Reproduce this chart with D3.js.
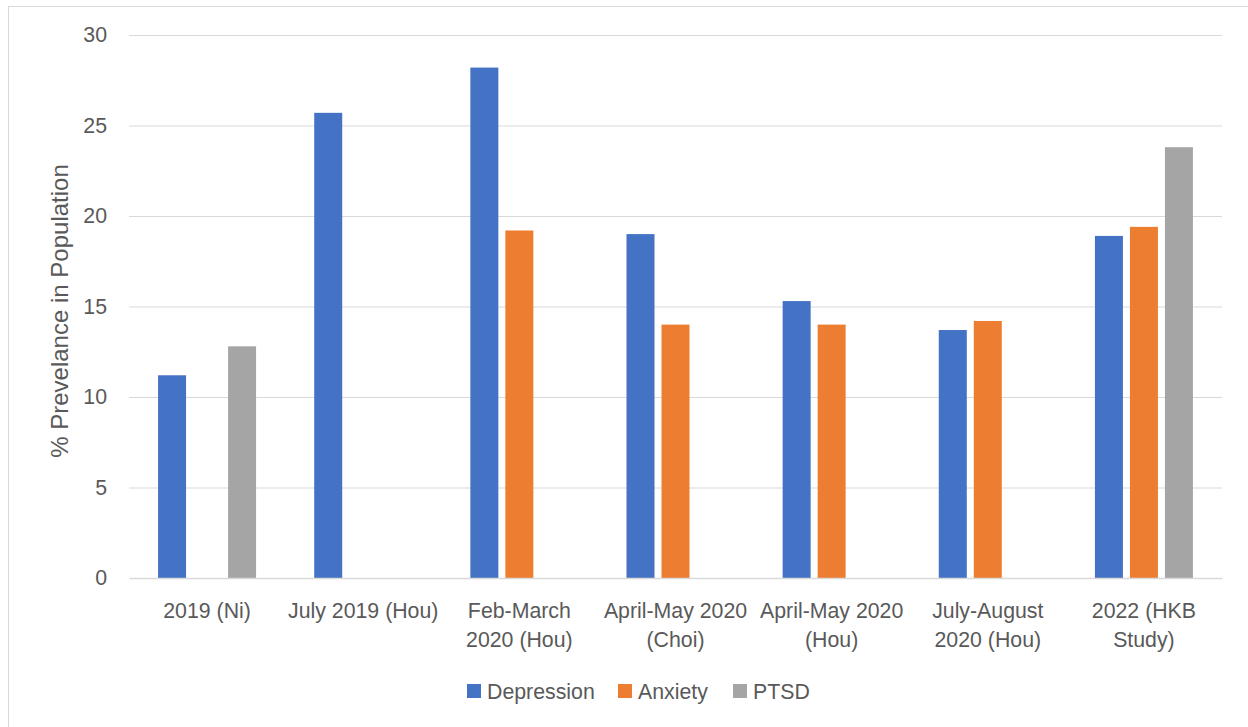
<!DOCTYPE html>
<html><head><meta charset="utf-8">
<script src="https://cdn.jsdelivr.net/npm/d3@7"></script>
<style>
html,body{margin:0;padding:0;background:#fff;}
text{font-family:"Liberation Sans",sans-serif;fill:#595959;}
</style></head>
<body>
<svg id="c" width="1248" height="727"></svg>
<script>
const categories = ["2019 (Ni)","July 2019 (Hou)","Feb-March 2020 (Hou)","April-May 2020 (Choi)","April-May 2020 (Hou)","July-August 2020 (Hou)","2022 (HKB Study)"];
const categoryLines = [["2019 (Ni)"],["July 2019 (Hou)"],["Feb-March","2020 (Hou)"],["April-May 2020","(Choi)"],["April-May 2020","(Hou)"],["July-August","2020 (Hou)"],["2022 (HKB","Study)"]];
const seriesNames = ["Depression","Anxiety","PTSD"];
const depression = [11.2, 25.7, 28.2, 19.0, 15.3, 13.7, 18.9];
const anxiety    = [null, null, 19.2, 14.0, 14.0, 14.2, 19.4];
const ptsd       = [12.8, null, null, null, null, null, 23.8];
const yTicks = [0,5,10,15,20,25,30];
const colors = ["#4472C4","#ED7D31","#A5A5A5"];
const yTitle = "% Prevelance in Population";

const seriesValues = [depression, anxiety, ptsd];
const svg = d3.select("#c");
const m = {left:129, right:1222, top:35, bottom:578};
const FS = "21.3px";

// chart border
svg.append("rect").attr("x",8.5).attr("y",6.5).attr("width",1260).attr("height",740)
  .attr("fill","none").attr("stroke","#D9D9D9").attr("stroke-width",1);

const x0 = d3.scaleBand().domain(categories).range([m.left,m.right]).paddingInner(0).paddingOuter(0);
const groupW = 28*3 + 7*2;
const x1 = d3.scaleBand().domain(seriesNames).range([0,groupW]).paddingInner(0.2).paddingOuter(0);
const y = d3.scaleLinear().domain([0,30]).range([m.bottom,m.top]);

// gridlines
const yAxis = d3.axisLeft(y).tickValues(yTicks).tickSize(-(m.right-m.left)).tickPadding(22);
const gy = svg.append("g").attr("transform",`translate(${m.left},0)`).call(yAxis);
gy.select(".domain").remove();
gy.selectAll(".tick line").attr("stroke","#D9D9D9").attr("stroke-width",1);
gy.selectAll(".tick text").attr("font-size",FS).style("fill","#595959");
gy.selectAll(".tick").filter(d=>d===0).select("line").remove();

// bars
seriesNames.forEach((s,si)=>{
  svg.append("g").selectAll("rect")
    .data(categories.map((c,i)=>({c, v:seriesValues[si][i]})).filter(d=>d.v!=null))
    .join("rect")
    .attr("x",d=>x0(d.c) + (x0.bandwidth()-groupW)/2 + x1(s))
    .attr("width",x1.bandwidth())
    .attr("y",d=>y(d.v))
    .attr("height",d=>y(0)-y(d.v))
    .attr("fill",colors[si]);
});

// x axis
const gx = svg.append("g").attr("transform",`translate(0,${m.bottom})`)
  .call(d3.axisBottom(x0).tickSize(0).tickFormat(""));
gx.select(".domain").attr("stroke","#D9D9D9").attr("stroke-width",1.5);
gx.selectAll(".tick").each(function(d,i){
  const t = d3.select(this).append("text").attr("text-anchor","middle").attr("font-size",FS).style("fill","#595959");
  categoryLines[i].forEach((ln,k)=>{
    t.append("tspan").attr("x",0).attr("y",40 + k*29).text(ln);
  });
});

// y title
svg.append("text").attr("transform",`translate(68,311) rotate(-90)`)
  .attr("text-anchor","middle").attr("font-size","24px").text(yTitle);

// legend
const legX = [467, 618, 733];
const lg = svg.append("g");
seriesNames.forEach((s,i)=>{
  lg.append("rect").attr("x",legX[i]).attr("y",684).attr("width",14).attr("height",14).attr("fill",colors[i]);
  lg.append("text").attr("x",legX[i]+20).attr("y",699).attr("font-size",FS).text(s);
});
</script>
</body></html>
